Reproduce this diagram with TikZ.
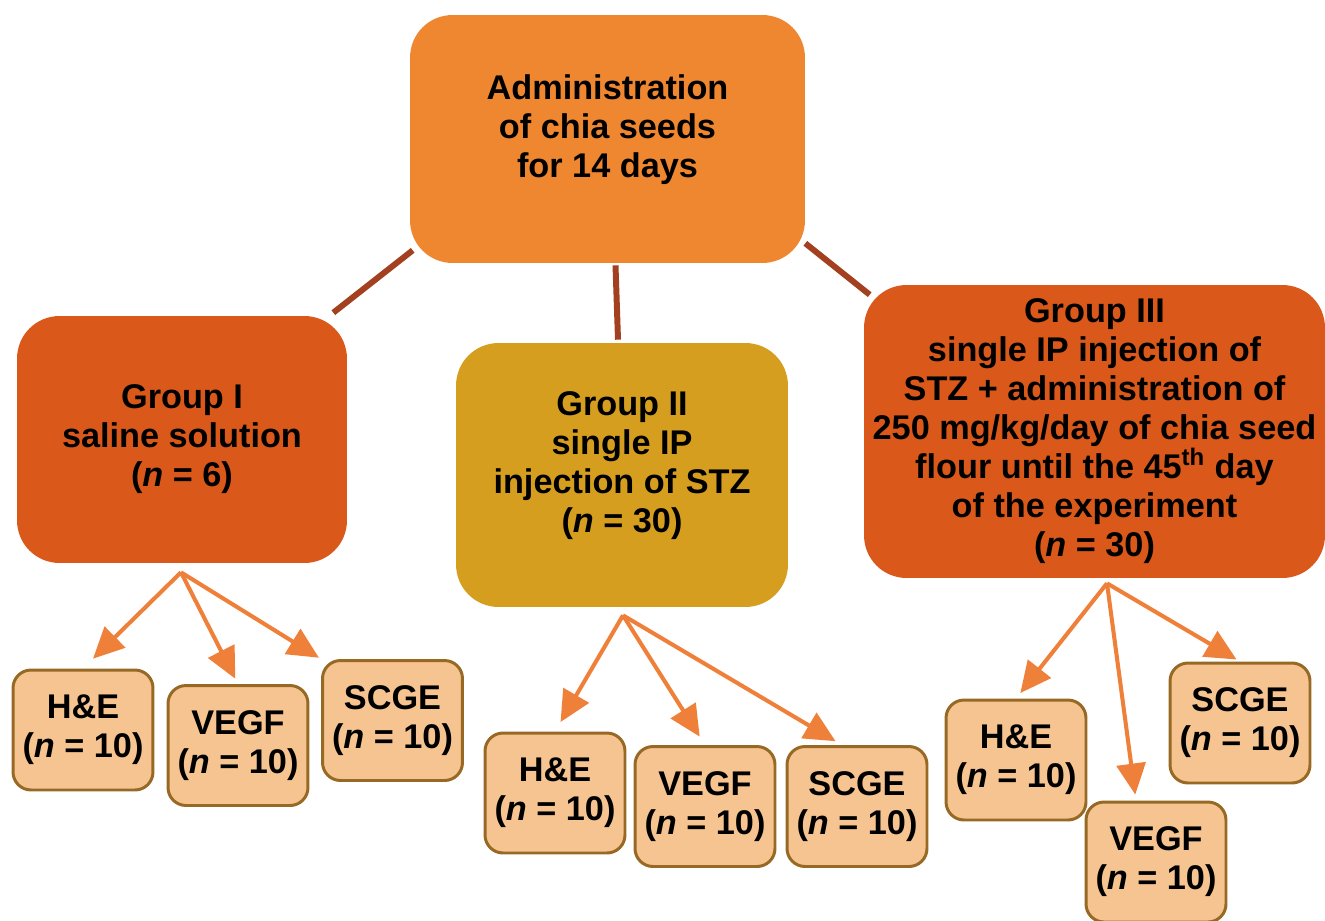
\documentclass[tikz,border=0pt]{standalone}
\usepackage{fontspec}
\setmainfont{Liberation Sans}
\usepackage{tikz}
\usetikzlibrary{arrows.meta}

\definecolor{topfill}{RGB}{239,135,49}
\definecolor{grpred}{RGB}{217,88,26}
\definecolor{grpgold}{RGB}{214,158,30}
\definecolor{testfill}{RGB}{246,196,144}
\definecolor{testedge}{RGB}{152,105,36}
\definecolor{linkbrown}{RGB}{162,64,31}
\definecolor{arroworange}{RGB}{239,128,58}

\begin{document}
\begin{tikzpicture}[x=0.02cm, y=-0.02cm,
        every node/.style={font=\bfseries\fontsize{19.5}{22.2}\selectfont, align=center},
        groupbox/.style={rectangle, rounded corners=0.85cm, inner sep=2pt},
        testbox/.style={rectangle, draw=testedge, fill=testfill, line width=1.7pt, rounded corners=0.36cm, minimum width=2.8cm, minimum height=2.4cm, inner sep=1pt},
        link/.style={draw=linkbrown, line width=3.4pt},
        line/.style={draw=arroworange, line width=2.3pt, -{Triangle[length=0.62cm, width=0.58cm]}}]

    \useasboundingbox (0,0) rectangle (1325,920);

    \node [groupbox, fill=topfill, minimum width=7.9cm, minimum height=4.96cm] (admin) at (607.5,139) {Administration\\of chia seeds\\for 14 days\\[-0.28cm]};
    \node [groupbox, fill=grpred, minimum width=6.6cm, minimum height=4.94cm] (g1) at (182,439.5) {Group I\\saline solution\\(\textit{n} = 6)};
    \node [groupbox, fill=grpgold, minimum width=6.64cm, minimum height=5.28cm] (g2) at (622,475) {Group II\\single IP\\injection of STZ\\(\textit{n} = 30)\\[-0.25cm]};
    \node [groupbox, fill=grpred, minimum width=9.22cm, minimum height=5.86cm] (g3) at (1094.5,431.5) {Group III\\single IP injection of\\STZ + administration of\\250 mg/kg/day of chia seed\\flour until the 45\textsuperscript{th} day\\of the experiment\\(\textit{n} = 30)};

    % tests of group I
    \node [testbox] (he1) at (83,730) {H\&E\\(\textit{n} = 10)};
    \node [testbox] (vg1) at (238,745.5) {VEGF\\(\textit{n} = 10)};
    \node [testbox] (sc1) at (392.5,720.5) {SCGE\\(\textit{n} = 10)};
    % tests of group II
    \node [testbox] (he2) at (555,793) {H\&E\\(\textit{n} = 10)};
    \node [testbox] (vg2) at (705,806.5) {VEGF\\(\textit{n} = 10)};
    \node [testbox] (sc2) at (857,806.5) {SCGE\\(\textit{n} = 10)};
    % tests of group III
    \node [testbox] (he3) at (1016,760) {H\&E\\(\textit{n} = 10)};
    \node [testbox] (vg3) at (1156,862) {VEGF\\(\textit{n} = 10)};
    \node [testbox] (sc3) at (1240,723) {SCGE\\(\textit{n} = 10)};

    \path [link] ([shift={(3,-13)}]admin.south west) -- ([shift={(-14,-3)}]g1.north east);
    \path [link] ([shift={(8,2)}]admin.south) -- ([shift={(-4,-3)}]g2.north);
    \path [link] ([shift={(0,-20)}]admin.south east) -- ([shift={(6,10)}]g3.north west);

    \coordinate (s1) at ([shift={(-1,9)}]g1.south);
    \coordinate (s2) at ([shift={(1,8)}]g2.south);
    \coordinate (s3) at ([shift={(12.5,5)}]g3.south);

    \path [line, shorten >=0.28cm] (s1) -- (he1.north);
    \path [line, shorten >=0.12cm] (s1) -- (vg1.north);
    \path [line, shorten >=0.05cm] (s1) -- (sc1.north west);

    \path [line, shorten >=0.22cm] (s2) -- (he2.north);
    \path [line, shorten >=0.2cm] (s2) -- (vg2.north);
    \path [line, shorten >=0.15cm] (s2) -- ([shift={(-15,0)}]sc2.north);

    \path [line, shorten >=0.14cm] (s3) -- (he3.north);
    \path [line, shorten >=0.12cm] (s3) -- ([shift={(-20,0)}]vg3.north);
    \path [line, shorten >=0.08cm] (s3) -- (sc3.north);
\end{tikzpicture}
\end{document}
